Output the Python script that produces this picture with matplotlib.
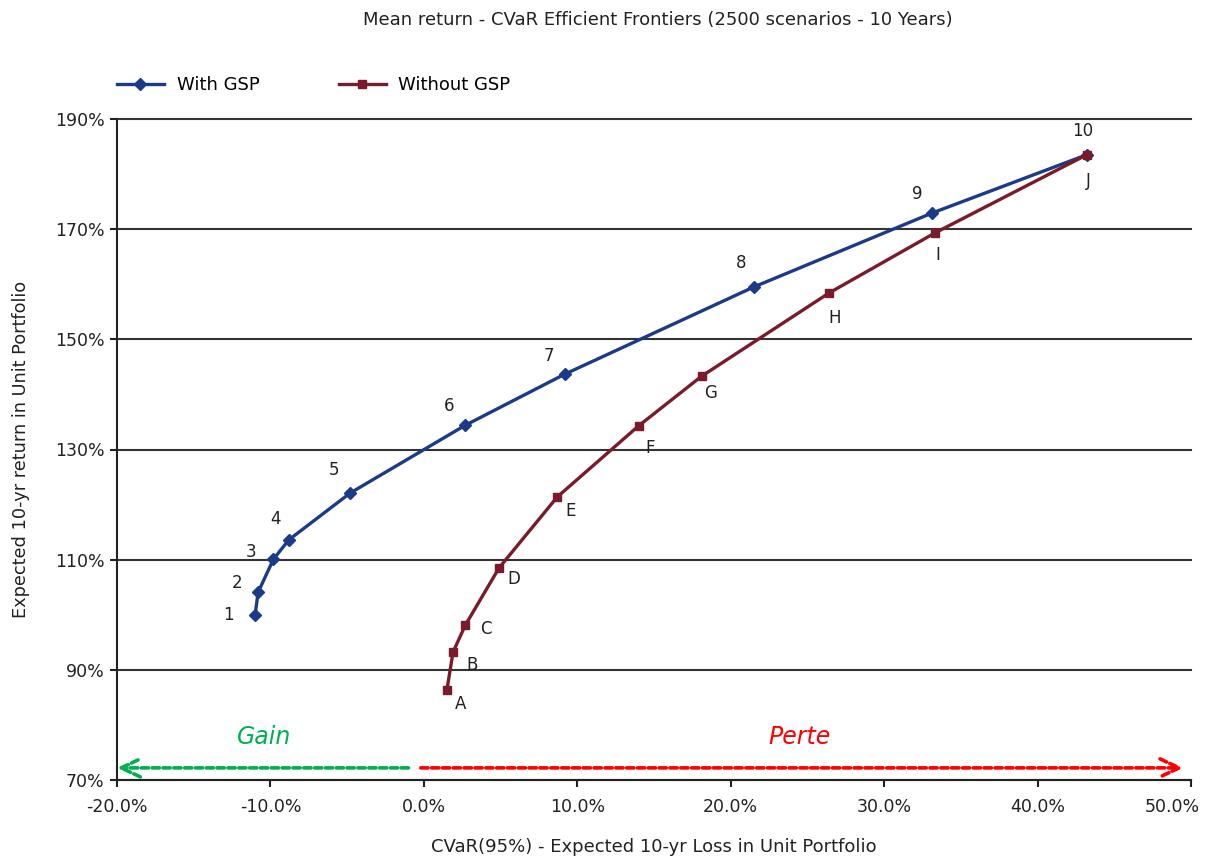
import matplotlib
matplotlib.use("Agg")
import matplotlib.pyplot as plt
from matplotlib.ticker import FuncFormatter, FixedLocator
from matplotlib.transforms import ScaledTranslation

plt.rcParams['font.family'] = ['DejaVu Sans']

with_labels = ["1", "2", "3", "4", "5", "6", "7", "8", "9", "10"]
with_cvar = [-11.0, -10.8, -9.8, -8.8, -4.8, 2.7, 9.2, 21.5, 33.1, 43.2]
with_ret = [100.0, 104.1, 110.1, 113.6, 122.1, 134.4, 143.7, 159.5, 172.9, 183.5]

without_labels = ["A", "B", "C", "D", "E", "F", "G", "H", "I", "J"]
without_cvar = [1.5, 1.9, 2.7, 4.9, 8.7, 14.0, 18.1, 26.4, 33.3, 43.2]
without_ret = [86.3, 93.2, 98.1, 108.5, 121.4, 134.3, 143.3, 158.4, 169.3, 183.5]

y_ticks = [70, 90, 110, 130, 150, 170, 190]
x_ticks = [-20, -10, 0, 10, 20, 30, 40, 50]

with_offsets = [(-27, 0), (-21, 9), (-22, 7), (-13, 21), (-16, 23), (-16, 19),
                (-16, 18), (-13, 24), (-14, 19), (-4, 24)]
without_offsets = [(14, -14), (19, -13), (21, -4), (15, -11), (13, -14), (11, -22),
                   (9, -17), (6, -25), (3, -22), (2, -26)]

blue = "#1B3A8A"
red = "#7A1A2B"
txt = "#222222"

fig = plt.figure(figsize=(12.05, 8.6), dpi=100)
ax = fig.add_axes([117/1205, 80/860, (1191-117)/1205, (780-119)/860])

ax.plot(with_cvar, with_ret, color=blue, lw=2.4, marker="D", ms=6.5, label="With GSP", zorder=3)
ax.plot(without_cvar, without_ret, color=red, lw=2.4, marker="s", ms=6, label="Without GSP", zorder=3)

for lab, x, y, off in zip(with_labels, with_cvar, with_ret, with_offsets):
    ax.annotate(lab, (x, y), xytext=off, textcoords="offset pixels", ha="center", va="center",
                fontsize=12, color=txt)
for lab, x, y, off in zip(without_labels, without_cvar, without_ret, without_offsets):
    ax.annotate(lab, (x, y), xytext=off, textcoords="offset pixels", ha="center", va="center",
                fontsize=12, color=txt)

ax.set_xlim(-20, 50)
ax.set_ylim(70, 190)
ax.xaxis.set_major_locator(FixedLocator(x_ticks))
ax.yaxis.set_major_locator(FixedLocator(y_ticks))
ax.xaxis.set_major_formatter(FuncFormatter(lambda v, p: f"{v:.1f}%"))
ax.yaxis.set_major_formatter(FuncFormatter(lambda v, p: f"{v:.0f}%"))
ax.tick_params(axis="both", length=5, width=1.5, direction="out", colors=txt)
ax.tick_params(axis="x", labelsize=12.5, pad=8)
ax.tick_params(axis="y", labelsize=12.5, pad=4)
ax.grid(axis="y", color="#333333", lw=1.5)
ax.set_axisbelow(True)
for gl in ax.get_ygridlines():
    gl.set_clip_on(False)
for s in ["top", "right"]:
    ax.spines[s].set_visible(False)
for s in ["left", "bottom"]:
    ax.spines[s].set_linewidth(1.5)
    ax.spines[s].set_color(txt)

# shift last x tick label left so it fits inside the figure
last = ax.xaxis.get_major_ticks()[-1].label1
last.set_transform(last.get_transform() + ScaledTranslation(-19/100, 0, fig.dpi_scale_trans))

ax.set_xlabel("CVaR(95%) - Expected 10-yr Loss in Unit Portfolio", fontsize=13, labelpad=16, color=txt)
ax.set_ylabel("Expected 10-yr return in Unit Portfolio", fontsize=12.8, labelpad=18, color=txt)

# Gain / Perte arrows
arrow_style = "->,head_length=0.55,head_width=0.26"
ax.annotate("", xy=(-20, 72.2), xytext=(-1.0, 72.2),
            arrowprops=dict(arrowstyle=arrow_style, color="#00B050", lw=2.6,
                            ls=(0, (2, 1)), mutation_scale=25, shrinkA=0, shrinkB=0),
            annotation_clip=False)
ax.annotate("", xy=(49.5, 72.2), xytext=(-0.2, 72.2),
            arrowprops=dict(arrowstyle=arrow_style, color="#FF0000", lw=2.6,
                            ls=(0, (2, 1)), mutation_scale=25, shrinkA=0, shrinkB=0),
            annotation_clip=False)
ax.text(-10.4, 77.8, "Gain", color="#00B050", fontsize=17, style="italic", ha="center", va="center")
ax.text(24.5, 77.8, "Perte", color="#FF0000", fontsize=17, style="italic", ha="center", va="center")

fig.text(658/1205, 1 - 20/860, "Mean return - CVaR Efficient Frontiers (2500 scenarios - 10 Years)",
         ha="center", va="center", fontsize=13, color=txt)

fig.legend(*ax.get_legend_handles_labels(), loc="center left",
           bbox_to_anchor=(117/1205, 1 - 85/860), bbox_transform=fig.transFigure,
           ncol=2, frameon=False, fontsize=13, handlelength=2.6, handletextpad=0.7,
           columnspacing=4.4, borderaxespad=0, borderpad=0)

fig.savefig("out.png", dpi=100)
